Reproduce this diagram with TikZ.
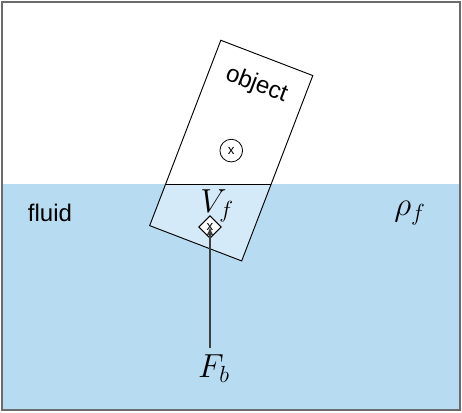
\RequirePackage{fix-cm}
\documentclass[tikz,border=0pt]{standalone}
\usepackage{fontspec}
\newfontfamily\helv{Liberation Sans}
\usetikzlibrary{shapes.geometric,arrows.meta,calc}
\definecolor{fluidblue}{HTML}{B7DCF2}
\definecolor{subblue}{HTML}{D5EAF8}
\definecolor{framegray}{HTML}{6B6B6B}
\definecolor{arrowgray}{HTML}{3F3F3F}

\begin{document}
\begin{tikzpicture}[
    x=0.75pt, y=-0.75pt,
    fluid/.style={fill=fluidblue},
    frame/.style={draw=framegray, line width=1.5pt},
    objbox/.style={
        rectangle,
        rotate=-21,
        minimum width=73.5pt,
        minimum height=148.5pt,
        inner sep=0pt
    },
    submerged/.style={fill=subblue},
    outline/.style={draw=black, line width=0.7pt},
    word/.style={font=\helv\fontsize{18}{20}\selectfont},
    mathlabel/.style={font=\fontsize{25}{30}\selectfont},
    cgmark/.style={
        circle,
        draw,
        line width=0.6pt,
        minimum size=17pt,
        inner sep=0pt,
        font=\helv\fontsize{10}{11}\selectfont
    },
    cbmark/.style={
        diamond,
        draw,
        fill=white,
        line width=0.7pt,
        minimum size=17pt,
        inner sep=0pt,
        font=\helv\fontsize{10}{11}\selectfont
    },
    force/.style={draw=arrowgray, line width=1pt, -{Latex[length=6pt,width=5pt]}}
]

\path[use as bounding box] (0,0) rectangle (462,412);

% Fluid
\fill[fluid] (2,184) rectangle (460,410);

% Object
\node[objbox] (obj) at (231.25,150.6) {};
\begin{scope}
    \clip (2,184) rectangle (460,410);
    \fill[submerged] (obj.north west) -- (obj.north east) -- (obj.south east) -- (obj.south west) -- cycle;
\end{scope}
\begin{scope}
    \clip (obj.north west) -- (obj.north east) -- (obj.south east) -- (obj.south west) -- cycle;
    \draw[outline] (2,184) -- (460,184);
\end{scope}
\draw[outline] (obj.north west) -- (obj.north east) -- (obj.south east) -- (obj.south west) -- cycle;
\node[word, rotate=-21] (objlabel) at ($(obj.center)!0.707!(obj.north)$) {object};
\node[cgmark] (cg) at (obj.center) {x};

% Buoyancy
\node[cbmark] (cb) at (210,227) {x};
\node[mathlabel] (vf) at (217,206) {$V_f$};
\node[mathlabel, inner sep=5pt] (fb) at (214,369) {$F_b$};
\draw[force] (cb.center |- fb.north) -- (cb.center);

% Labels
\node[word] (fluidlabel) at (50,213) {fluid};
\node[mathlabel] (rho) at (410,213) {$\rho_f$};

\draw[frame] (2,2) rectangle (460,410);

\end{tikzpicture}
\end{document}
